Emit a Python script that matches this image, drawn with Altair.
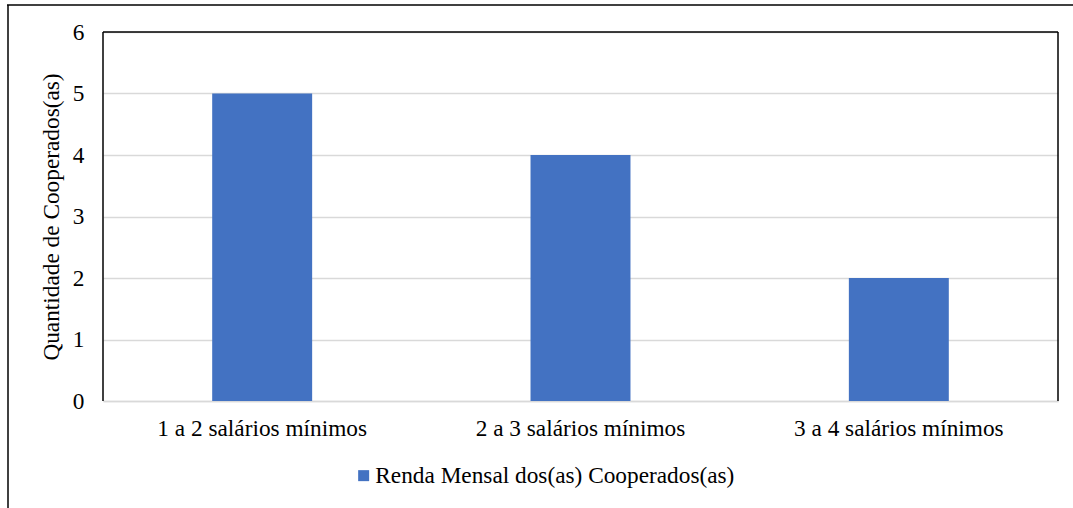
import altair as alt
import pandas as pd

# Monthly income brackets and number of cooperative members in each
faixas = ["1 a 2 salários mínimos", "2 a 3 salários mínimos", "3 a 4 salários mínimos"]
quantidades = [5, 4, 2]
serie = "Renda Mensal dos(as) Cooperados(as)"

W, H = 955, 369
FONT = "Liberation Serif"
FS = 23.3
BLUE = "#4372C2"

df = pd.DataFrame({"faixa": faixas, "qtd": quantidades, "serie": [serie] * len(faixas)})

bars = alt.Chart(df).mark_bar(color=BLUE).encode(
    x=alt.X(
        "faixa:N",
        sort=faixas,
        title=None,
        scale=alt.Scale(paddingInner=0.686, paddingOuter=0.343),
        axis=alt.Axis(
            labelAngle=0,
            labelFont=FONT,
            labelFontSize=FS,
            labelColor="#000000",
            labelPadding=16,
            labelLimit=0,
            ticks=False,
            domainColor="#d9d9d9",
            domainWidth=1.5,
            grid=False,
        ),
    ),
    y=alt.Y(
        "qtd:Q",
        title="Quantidade de Cooperados(as)",
        scale=alt.Scale(domain=[0, 6], nice=False),
        axis=alt.Axis(
            values=[0, 1, 2, 3, 4, 5, 6],
            labelFont=FONT,
            labelFontSize=FS,
            labelColor="#000000",
            labelPadding=19,
            ticks=False,
            domain=False,
            gridColor="#d9d9d9",
            gridWidth=1.5,
            titleFont=FONT,
            titleFontSize=FS,
            titleFontWeight="normal",
            titleColor="#000000",
            titlePadding=9,
        ),
    ),
    color=alt.Color(
        "serie:N",
        scale=alt.Scale(range=[BLUE]),
        legend=alt.Legend(
            title=None,
            orient="none",
            legendX=249,
            legendY=432,
            symbolType="square",
            symbolSize=121,
            symbolStrokeWidth=0,
            symbolOpacity=1,
            labelFont=FONT,
            labelFontSize=FS,
            labelColor="#000000",
            labelOffset=0,
            labelLimit=0,
        ),
    ),
)

frame_df = pd.DataFrame({"k": [0]})
base = alt.Chart(frame_df)

# Plot-area box: black on top, left and right
box_top = base.mark_rule(color="#000000", strokeWidth=1.5).encode(
    x=alt.value(0), x2=alt.value(W), y=alt.value(0)
)
box_left = base.mark_rule(color="#000000", strokeWidth=1.5).encode(
    x=alt.value(0), y=alt.value(0), y2=alt.value(H)
)
box_right = base.mark_rule(color="#000000", strokeWidth=1.5).encode(
    x=alt.value(W), y=alt.value(0), y2=alt.value(H)
)

# Outer chart frame (top and left edges)
outer_top = base.mark_rule(color="#000000", strokeWidth=1.5).encode(
    x=alt.value(-96), x2=alt.value(975), y=alt.value(-27)
)
outer_left = base.mark_rule(color="#000000", strokeWidth=1.5).encode(
    x=alt.value(-95), y=alt.value(-27), y2=alt.value(476)
)

chart = alt.layer(bars, box_top, box_left, box_right, outer_top, outer_left).properties(
    width=W,
    height=H,
    autosize=alt.AutoSizeParams(type="none"),
    padding={"left": 103, "top": 32, "right": 15, "bottom": 107},
    background="#ffffff",
).configure_view(stroke=None)

chart.save("out.html", embed_options={"renderer": "svg", "actions": False})
